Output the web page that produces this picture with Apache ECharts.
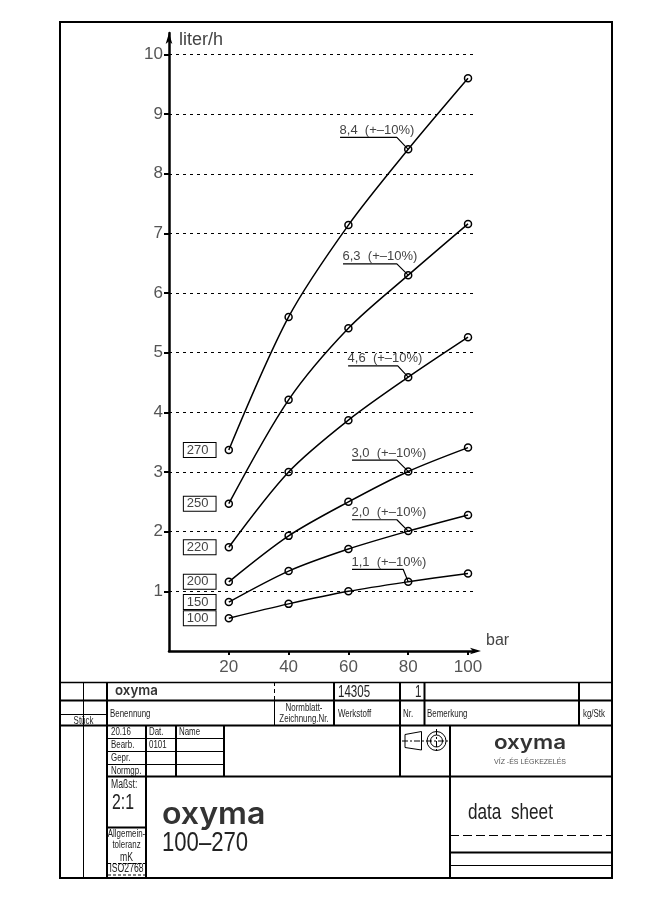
<!DOCTYPE html>
<html>
<head>
<meta charset="utf-8">
<title>oxyma 100-270</title>
<style>
html, body { margin: 0; padding: 0; background: #fff; }
#chart { width: 661px; height: 911px; }
</style>
<script src="https://cdn.jsdelivr.net/npm/echarts@6/dist/echarts.min.js"></script>
</head>
<body>
<div id="chart"></div>
<script>
// pressure steps on the x axis (bar)
var pressure = [20, 40, 60, 80, 100];
var yTicks = [1, 2, 3, 4, 5, 6, 7, 8, 9, 10];

// flow in liter/h, one list per pump size
var models = ['270', '250', '220', '200', '150', '100'];
var flow270 = [3.37, 5.60, 7.14, 8.41, 9.60];
var flow250 = [2.47, 4.21, 5.41, 6.30, 7.16];
var flow220 = [1.74, 3.00, 3.87, 4.59, 5.26];
var flow200 = [1.16, 1.93, 2.50, 3.01, 3.41];
var flow150 = [0.82, 1.34, 1.71, 2.01, 2.28];
var flow100 = [0.55, 0.79, 1.00, 1.16, 1.30];
var flows = [flow270, flow250, flow220, flow200, flow150, flow100];

// nominal value callouts, read at 80 bar
var notes = ['8,4  (+\u201310%)', '6,3  (+\u201310%)', '4,6  (+\u201310%)', '3,0  (+\u201310%)', '2,0  (+\u201310%)', '1,1  (+\u201310%)'];
var noteStartX = [57.2, 58.2, 59.9, 61.2, 61.2, 61.2];
var noteKneeX = [76.2, 76.2, 76.5, 76.2, 76.2, 78.3];
var noteY = [8.61, 6.49, 4.78, 3.20, 2.20, 1.37];

var FONT = '"Liberation Sans", sans-serif';
var LOGO = 'Inter, sans-serif';
var INK = '#000';
var GREY = '#444';

var dom = document.getElementById('chart');
var myChart = echarts.init(dom, null, { renderer: 'canvas' });

function hline(x1, x2, y, w, dash) {
    return {
        type: 'line', silent: true,
        shape: { x1: x1, y1: y, x2: x2, y2: y },
        style: { stroke: INK, lineWidth: w, lineDash: dash || null }
    };
}
function vline(x, y1, y2, w, dash) {
    return {
        type: 'line', silent: true,
        shape: { x1: x, y1: y1, x2: x, y2: y2 },
        style: { stroke: INK, lineWidth: w, lineDash: dash || null }
    };
}
// the sheet lettering is narrow, so squeeze the text horizontally
function txt(s, x, y, size, opt) {
    opt = opt || {};
    return {
        type: 'text', silent: true, x: x, y: y,
        scaleX: opt.sx || 0.72,
        style: {
            text: s, x: 0, y: 0,
            font: (opt.weight || 'normal') + ' ' + size + 'px ' + (opt.font || FONT),
            fill: opt.color || '#222',
            align: opt.align || 'left',
            verticalAlign: 'middle'
        }
    };
}

// drawing sheet frame and title block
function buildSheet() {
    var g = [];
    g.push({
        type: 'rect', silent: true,
        shape: { x: 60, y: 22, width: 552, height: 856 },
        style: { fill: 'none', stroke: INK, lineWidth: 2 }
    });
    g.push(hline(60, 612, 682.5, 1.5));
    g.push(hline(60, 612, 700.5, 2));
    g.push(hline(60, 612, 725.5, 2));
    g.push(hline(60, 107, 714.5, 1));
    g.push(hline(107, 612, 776.5, 2));
    g.push(hline(107, 224, 738.5, 1));
    g.push(hline(107, 224, 751.5, 1));
    g.push(hline(107, 224, 764.5, 1));
    g.push(hline(107, 146, 827.5, 2));
    g.push(hline(450, 612, 835.5, 1, [9, 4]));
    g.push(hline(450, 612, 852.5, 2));
    g.push(hline(450, 612, 865.5, 1));

    g.push(vline(83.5, 682, 878, 1));
    g.push(vline(107, 682, 878, 2));
    g.push(vline(146, 725, 878, 2));
    g.push(vline(176, 725, 776, 2));
    g.push(vline(224, 725, 776, 2));
    g.push(vline(274.5, 682, 700, 1, [4, 3]));
    g.push(vline(274.5, 700, 725, 1));
    g.push(vline(334, 682, 725, 2));
    g.push(vline(400, 682, 776, 2));
    g.push(vline(424.5, 682, 725, 2));
    g.push(vline(450, 725, 878, 2));
    g.push(vline(579, 682, 725, 2));

    // projection symbol
    g.push({
        type: 'polygon', silent: true,
        shape: { points: [[405, 734.5], [421.5, 731.5], [421.5, 750], [405, 747.5]] },
        style: { fill: 'none', stroke: INK, lineWidth: 1 }
    });
    g.push(hline(402, 449, 741, 1, [6, 2, 2, 2]));
    g.push(vline(436.5, 729, 753, 1, [6, 2, 2, 2]));
    g.push({ type: 'circle', silent: true, shape: { cx: 436.5, cy: 741, r: 9.5 }, style: { fill: 'none', stroke: INK, lineWidth: 1 } });
    g.push({ type: 'circle', silent: true, shape: { cx: 436.5, cy: 741, r: 6 }, style: { fill: 'none', stroke: INK, lineWidth: 1 } });

    // title block text
    g.push(txt('oxyma', 115, 691, 14, { weight: '600', font: LOGO, color: '#333', sx: 0.95 }));
    g.push(txt('14305', 338, 693, 16));
    g.push(txt('1', 415, 693, 16));
    g.push(txt('St\u00fcck', 83.5, 720.5, 11, { align: 'center' }));
    g.push(txt('Benennung', 110, 714, 11));
    g.push(txt('Normblatt-', 304, 708, 11, { align: 'center' }));
    g.push(txt('Zeichnung.Nr.', 304, 719, 11, { align: 'center' }));
    g.push(txt('Werkstoff', 338, 714, 11));
    g.push(txt('Nr.', 403, 714, 11));
    g.push(txt('Bemerkung', 427, 714, 11));
    g.push(txt('kg/Stk', 583, 714, 11));
    g.push(txt('20.16', 111, 732, 11));
    g.push(txt('Dat.', 149, 732, 11));
    g.push(txt('Name', 179, 732, 11));
    g.push(txt('Bearb.', 111, 745, 11));
    g.push(txt('0101', 149, 745, 11));
    g.push(txt('Gepr.', 111, 758, 11));
    g.push(txt('Normgp.', 111, 771, 11));
    g.push(txt('Ma\u00dfst:', 111, 785, 12));
    g.push(txt('2:1', 112, 803, 22));
    g.push(txt('Allgemein-', 126.5, 834, 11, { align: 'center' }));
    g.push(txt('toleranz', 126.5, 845, 11, { align: 'center' }));
    g.push(txt('mK', 126.5, 858, 12, { align: 'center' }));
    g.push(txt('ISO2768', 126.5, 869, 12, { align: 'center' }));
    g.push(hline(108, 145, 863.5, 1, [3, 2]));
    g.push(hline(108, 145, 875, 1, [3, 2]));
    g.push(txt('oxyma', 162, 815, 30, { weight: '600', font: LOGO, color: '#333', sx: 1.07 }));
    g.push(txt('100\u2013270', 162, 843, 28, { sx: 0.79 }));
    g.push(txt('oxyma', 530, 743, 20, { weight: '600', font: LOGO, color: '#333', align: 'center', sx: 1.12 }));
    g.push(txt('V\u00cdZ -\u00c9S L\u00c9GKEZEL\u00c9S', 530, 762, 7, { color: '#555', align: 'center', sx: 1 }));
    g.push(txt('data  sheet', 468, 813, 22, { sx: 0.78 }));
    return g;
}

var series = [];
models.forEach(function (m, i) {
    var points = flows[i].map(function (v, j) {
        var item = { value: [pressure[j], v] };
        if (j === 0) {
            // boxed size label left of the first point
            item.label = {
                show: true,
                position: 'left',
                distance: 9,
                formatter: m,
                lineHeight: 14,
                padding: [0, 7, 0, 3],
                borderColor: INK,
                borderWidth: 1,
                backgroundColor: '#fff',
                color: GREY,
                fontSize: 13,
                fontFamily: FONT
            };
        }
        return item;
    });
    series.push({
        name: m,
        type: 'line',
        smooth: 0.3,
        symbol: 'circle',
        symbolSize: 7,
        showSymbol: true,
        showAllSymbol: true,
        lineStyle: { color: INK, width: 1.5 },
        itemStyle: { color: 'rgba(255,255,255,0)', borderColor: INK, borderWidth: 1.5 },
        z: 3,
        data: points
    });
});

notes.forEach(function (t, i) {
    series.push({
        name: t,
        type: 'line',
        symbol: 'circle',
        symbolSize: 1,
        showSymbol: true,
        showAllSymbol: true,
        lineStyle: { color: INK, width: 1.2 },
        itemStyle: { color: 'rgba(0,0,0,0)' },
        z: 2,
        data: [
            {
                value: [noteStartX[i], noteY[i]],
                label: {
                    show: true,
                    position: [0, -13],
                    formatter: t,
                    color: GREY,
                    fontSize: 13,
                    letterSpacing: 0.6,
                    fontFamily: FONT
                }
            },
            [noteKneeX[i], noteY[i]],
            [pressure[3], flows[i][3]]
        ]
    });
});

var option = {
    animation: false,
    backgroundColor: '#fff',
    grid: { left: 169, right: 187, top: 33, bottom: 260 },
    xAxis: {
        type: 'value',
        min: 0,
        max: 102,
        name: 'bar',
        nameLocation: 'end',
        nameGap: 12,
        nameTextStyle: { color: GREY, fontSize: 16, letterSpacing: 1, fontFamily: FONT, verticalAlign: 'bottom', padding: [0, 0, 2, 0] },
        axisLine: { onZero: false, symbol: ['none', 'arrow'], symbolSize: [5, 11], symbolOffset: [0, 7], lineStyle: { color: INK, width: 2.5 } },
        axisTick: { show: true, customValues: pressure, length: 4, lineStyle: { color: INK, width: 2 } },
        axisLabel: { customValues: pressure, color: '#555', fontSize: 17, margin: 8, fontFamily: FONT },
        splitLine: { show: false }
    },
    yAxis: {
        type: 'value',
        min: 0,
        max: 10.36,
        name: 'liter/h',
        nameLocation: 'end',
        nameGap: -7,
        nameTextStyle: { color: GREY, fontSize: 18, letterSpacing: 0.7, align: 'left', verticalAlign: 'middle', padding: [0, 0, 0, 10], fontFamily: FONT },
        axisLine: { onZero: false, symbol: ['none', 'arrow'], symbolSize: [5, 11], lineStyle: { color: INK, width: 2.5 } },
        axisTick: { show: true, customValues: yTicks, length: 5, lineStyle: { color: INK, width: 2 } },
        axisLabel: { customValues: yTicks, color: '#555', fontSize: 17, margin: 6, fontFamily: FONT },
        splitLine: { show: true, showMinLine: true, showMaxLine: true, lineStyle: { color: INK, width: 1.2, type: [3, 4] } }
    },
    graphic: { elements: buildSheet() },
    series: series
};

myChart.setOption(option);
</script>
</body>
</html>
